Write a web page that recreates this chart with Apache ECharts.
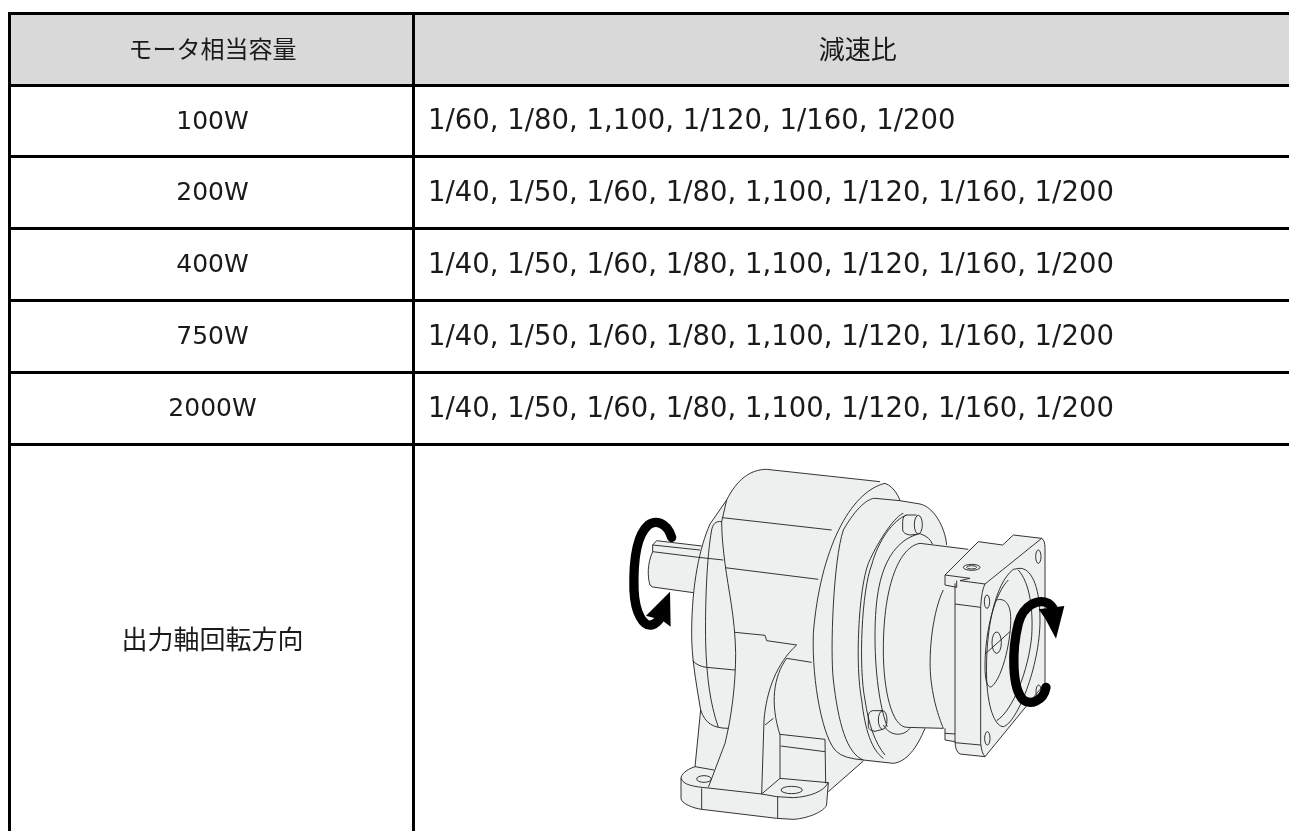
<!DOCTYPE html>
<html>
<head>
<meta charset="utf-8">
<style>
  html, body { margin: 0; padding: 0; background: #fff; }
  #main { width: 1289px; height: 831px; }
</style>
</head>
<body>
<div id="main"></div>
<script src="https://cdn.jsdelivr.net/npm/echarts@6/dist/echarts.min.js"></script>
<script>
// table content
const headers = ["モータ相当容量", "減速比"];
const capacities = ["100W", "200W", "400W", "750W", "2000W"];
const ratios = [
  "1/60, 1/80, 1,100, 1/120, 1/160, 1/200",
  "1/40, 1/50, 1/60, 1/80, 1,100, 1/120, 1/160, 1/200",
  "1/40, 1/50, 1/60, 1/80, 1,100, 1/120, 1/160, 1/200",
  "1/40, 1/50, 1/60, 1/80, 1,100, 1/120, 1/160, 1/200",
  "1/40, 1/50, 1/60, 1/80, 1,100, 1/120, 1/160, 1/200",
];
const lastRowLabel = "出力軸回転方向";

// rulings of the table, in axis units (the axes run 1:1 over the page)
const colEdges = [9.5, 413.5, 1302];
const rowEdges = [13.5, 85.5, 156.5, 228.5, 300.5, 372.5, 444.5, 840];

const FONT = '"DejaVu Sans", "Noto Sans CJK JP", sans-serif';
const INK = "#1a1a1a";

const cells = [];
const allRows = [headers].concat(
  capacities.map((c, i) => [c, ratios[i]]),
  [[lastRowLabel, ""]]
);
allRows.forEach((row, r) => {
  row.forEach((text, c) => cells.push([c, r, text]));
});

function cellFontSize(c, r) {
  if (r === 0) return c === 0 ? 24 : 26; // kana in the picture run narrow, 24 keeps the width
  if (r === 6) return 26;
  return c === 0 ? 25 : 27.5;
}

function cellTextY(r, top, bottom) {
  if (r === 6) return 642;
  if (r === 0) return (top + bottom) / 2 + 2.5;
  return (top + bottom) / 2 + 1;
}

function renderCell(params, api) {
  const c = api.value(0);
  const r = api.value(1);
  const p0 = api.coord([colEdges[c], rowEdges[r]]);
  const p1 = api.coord([colEdges[c + 1], rowEdges[r + 1]]);
  const text = cells[params.dataIndex][2];
  const centered = c === 0 || r === 0;
  return {
    type: "group",
    children: [
      {
        type: "rect",
        shape: { x: p0[0], y: p0[1], width: p1[0] - p0[0], height: p1[1] - p0[1] },
        style: { fill: r === 0 ? "#d9d9d9" : "#fff", stroke: "#000", lineWidth: 3 },
      },
      {
        type: "text",
        x: centered ? (p0[0] + p1[0]) / 2 + (c === 0 ? 1 : 0) : p0[0] + 14.5,
        y: cellTextY(r, p0[1], p1[1]),
        style: {
          text: text,
          fill: INK,
          font: cellFontSize(c, r) + 'px ' + FONT,
          align: centered ? "center" : "left",
          verticalAlign: "middle",
        },
      },
    ],
  };
}

// gear motor illustration, traced at 3x from the picture
const BODY = "#eef0ef";
const leftFill = [
  "M363 985C370 965 385 955 405 950L420 780C405 680 395 620 395 550C395 400 420 290 450 222L500 150C530 90 570 58 620 58L960 95L960 940L910 933L805 1025L800 1065C780 1090 740 1108 700 1108L650 1105L425 1078C400 1075 363 1060 363 1045Z",
  "M290 272L425 288L400 428L285 412Q275 412 270 405C262 380 262 340 278 305L278 285Z",
];
const leftLines = [
  // shaft
  "M425 288L290 272L278 285L278 305C262 340 262 380 270 405Q275 412 285 412L400 428",
  "M278 285L420 300M278 305L415 322L490 330",
  // front cover
  "M620 58L960 95M620 58C570 58 530 90 500 150L450 222C420 290 395 400 395 550C395 620 405 680 422 780C435 820 460 835 505 835",
  "M500 150L485 215C465 212 458 225 455 240C440 320 435 470 437 580C440 680 450 760 475 832",
  "M485 215C485 260 490 300 495 340C505 420 525 500 527 610C527 700 515 800 495 880L445 1012",
  "M398 632Q415 650 440 652L525 660",
  "M487 203L815 240M495 353L775 388",
  // pedestal
  "M525 547L615 556L620 572L710 585C650 640 620 720 612 810L605 1032",
  "M680 625L755 637M680 625C640 680 630 760 660 855L660 985",
  "M615 825L640 805M660 853L795 868M662 888L795 905M795 868L797 1000",
  "M422 780L405 950L462 960",
  // foot
  "M405 950C375 960 363 975 363 985L363 1045C363 1060 400 1075 425 1078L650 1105L700 1108C750 1105 800 1080 800 1062L805 998",
  "M363 985C370 1005 400 1010 445 1014L605 1032L650 1040L700 1043C750 1040 790 1025 805 998",
  "M605 1032L660 985L805 998M425 1015L425 1078M653 1040L653 1105M805 1025L910 933",
  "M410 987a22 10 0 1 0 44 0a22 10 0 1 0 -44 0",
  "M663 1020a32 11 0 1 0 64 0a32 11 0 1 0 -64 0",
];
const rightFill = [
  "M0 100L240 100L255 100C285 110 300 150 300 152L360 162C400 170 435 230 440 285L505 298L535 275L608 285L640 255L725 265Q735 270 735 295L735 700L555 920L480 912Q465 905 465 878L435 870L430 835L375 835C350 895 320 935 280 940L190 930L85 1020L0 1030Z",
];
const rightLines = [
  // discs
  "M255 100C285 110 300 150 300 152L360 162C400 170 435 230 440 285",
  "M255 100C150 125 60 300 40 550C35 700 70 870 110 905Q130 925 190 930L280 940C320 935 350 895 375 835",
  "M300 152L225 145C205 145 170 170 130 240C100 330 90 600 100 690C115 820 140 910 190 930",
  "M310 190C290 195 240 260 205 340C175 420 165 650 185 750C195 840 215 900 250 925",
  "M320 195C280 210 235 270 215 345C185 420 175 650 195 750C205 820 225 880 255 915",
  "M355 252C320 262 300 280 280 305C240 360 225 440 225 560C225 690 245 790 262 830",
  // neck
  "M505 298L360 280C300 290 250 400 250 600C250 720 275 830 320 832L430 835",
  "M430 420C400 480 385 600 392 680C400 760 420 810 430 835",
  // adapter flange
  "M435 375L535 275L608 285L640 255L725 265Q735 270 735 295L735 700L555 920L480 912Q465 905 465 870L465 400",
  "M555 402L725 265M435 375L510 385L480 392L555 402M555 920Q545 910 542 880L542 470Q545 420 555 402",
  "M465 462L542 472M465 878L542 885M435 375L435 405L470 412L470 392M435 835L435 870L465 875M435 850L465 852",
  "M490 352a25 9 0 1 0 50 0a25 9 0 1 0 -50 0M500 352a15 5 0 1 0 30 0a15 5 0 1 0 -30 0",
  "M707 320a8 20 0 1 0 16 0a8 20 0 1 0 -16 0M553 455a8 20 0 1 0 16 0a8 20 0 1 0 -16 0",
  "M554 865a8 20 0 1 0 16 0a8 20 0 1 0 -16 0M708 725a8 20 0 1 0 16 0a8 20 0 1 0 -16 0",
  // bore and output shaft end
  "M640 358C585 400 555 540 560 690C565 790 590 830 610 830C650 820 720 650 720 510C720 400 690 355 660 355Z",
  "M625 390C585 430 555 540 555 650C555 700 565 715 575 710C610 680 635 560 632 500C630 450 605 445 590 450",
  "M655 360C690 400 700 480 695 560C685 660 640 780 590 812",
  "M576 578a14 32 0 1 0 28 0a14 32 0 1 0 -28 0M555 612L630 545",
  // socket screws
  "M350 195L320 195Q308 197 308 215L308 240Q310 252 330 255L350 253M343 224a12 28 0 1 0 24 0a12 28 0 1 0 -24 0",
  "M355 250C375 255 390 265 397 282",
  "M248 782L218 782Q205 785 205 800L205 830Q207 842 225 844L248 838M235 810a13 28 0 1 0 26 0a13 28 0 1 0 -26 0",
  "M250 825C270 860 310 860 330 835",
];
const leftArrowLine = "M335 262C320 215 285 210 265 225C225 260 220 350 222 420C225 490 250 530 275 525Q290 520 300 505";
const leftArrowHead = "M330 425L332 530L305 510L258 497Z";
const rightArrowLine = "M738 712C730 755 690 765 670 750C635 715 635 600 655 520C670 465 715 445 745 460Q760 470 765 490";
const rightArrowHead = "M793 468L768 566L735 505L716 478Z";

function fillPath(d) {
  return { type: "path", shape: { pathData: d }, style: { fill: BODY, stroke: null } };
}
function linePath(d) {
  return { type: "path", shape: { pathData: d }, style: { fill: null, stroke: "#1e1e1e", lineWidth: 2.7 } };
}
function arrowLine(d) {
  return { type: "path", shape: { pathData: d }, style: { fill: null, stroke: "#000", lineWidth: 28, lineCap: "round" } };
}
function arrowHead(d) {
  return { type: "path", shape: { pathData: d }, style: { fill: "#000", stroke: null } };
}

function renderGear(params, api) {
  const a = api.coord([560, 450]);
  const b = api.coord([800, 450]);
  const scale = { scaleX: 1 / 3, scaleY: 1 / 3 };
  return {
    type: "group",
    children: [
      Object.assign({ type: "group", x: b[0], y: b[1], children: rightFill.map(fillPath) }, scale),
      Object.assign({
        type: "group",
        x: a[0],
        y: a[1],
        children: leftFill.map(fillPath).concat(
          leftLines.map(linePath),
          [arrowLine(leftArrowLine), arrowHead(leftArrowHead)]
        ),
      }, scale),
      Object.assign({
        type: "group",
        x: b[0],
        y: b[1],
        children: rightLines.map(linePath).concat(
          [arrowLine(rightArrowLine), arrowHead(rightArrowHead)]
        ),
      }, scale),
    ],
  };
}

const chart = echarts.init(document.getElementById("main"));
chart.setOption({
  animation: false,
  grid: { left: 0, right: 0, top: 0, bottom: 0 },
  xAxis: { type: "value", min: 0, max: 1289, show: false },
  yAxis: { type: "value", min: 0, max: 831, inverse: true, show: false },
  series: [
    {
      type: "custom",
      renderItem: renderCell,
      data: cells.map((d) => [d[0], d[1]]),
      silent: true,
      z: 1,
    },
    {
      type: "custom",
      renderItem: renderGear,
      data: [[0]],
      silent: true,
      z: 2,
    },
  ],
});
</script>
</body>
</html>
